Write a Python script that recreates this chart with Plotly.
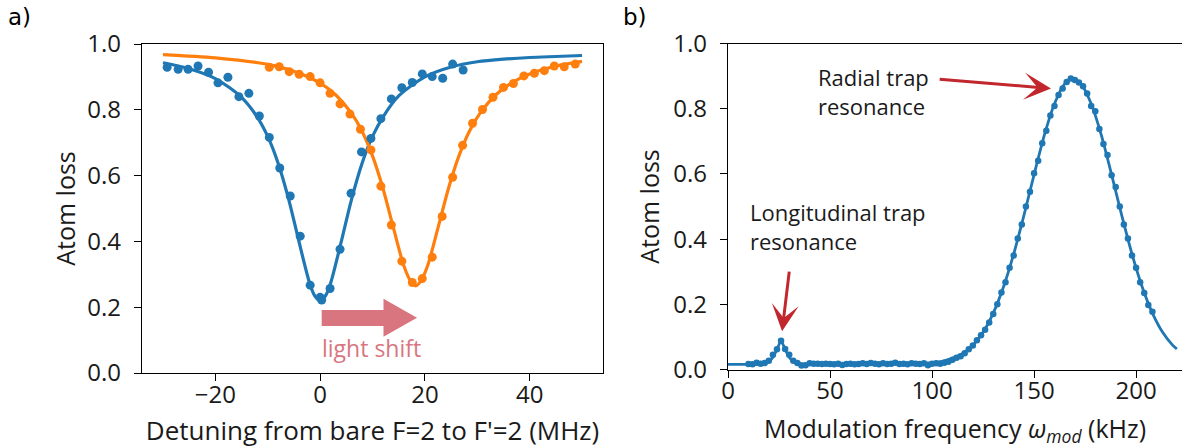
import plotly.graph_objects as go

# ---------------- Panel a) data ----------------
blue_x = [-29.2, -27.1, -25.2, -23.3, -21.3, -19.5, -17.6, -15.5, -13.6, -11.6, -9.7, -7.7,
          -5.7, -3.8, -1.9, 0.0, 0.3, 1.9, 3.8, 5.9, 7.9, 9.7, 11.6, 13.6, 15.6, 17.6, 19.5,
          21.4, 23.4, 25.3, 27.3]
blue_y = [0.929, 0.923, 0.923, 0.933, 0.914, 0.882, 0.899, 0.840, 0.850, 0.781, 0.716, 0.623,
          0.538, 0.416, 0.267, 0.230, 0.222, 0.257, 0.376, 0.546, 0.672, 0.713, 0.773, 0.833,
          0.867, 0.883, 0.909, 0.901, 0.896, 0.939, 0.921]

orange_x = [-9.7, -7.8, -5.9, -4.0, -1.9, 0.0, 1.9, 3.8, 5.7, 7.7, 9.7, 11.6, 13.6, 15.6,
            17.6, 19.5, 21.4, 23.3, 25.3, 27.2, 29.1, 31.0, 33.0, 35.0, 36.9, 38.9, 40.9,
            42.8, 44.7, 46.6, 48.7]
orange_y = [0.929, 0.931, 0.916, 0.908, 0.901, 0.882, 0.850, 0.818, 0.787, 0.741, 0.678,
            0.568, 0.450, 0.340, 0.275, 0.287, 0.352, 0.476, 0.595, 0.692, 0.759, 0.801,
            0.838, 0.868, 0.880, 0.903, 0.911, 0.919, 0.933, 0.931, 0.939]

blue_fit_x = [-30, -25, -20, -15, -12, -10, -8, -6, -4, -2, -1, 0, 1, 2, 4, 6, 8, 10, 12,
              15, 20, 25, 30, 35, 40, 45, 50]
blue_fit_y = [0.943, 0.925, 0.895, 0.838, 0.778, 0.719, 0.637, 0.528, 0.397, 0.273, 0.234,
              0.220, 0.234, 0.273, 0.397, 0.528, 0.637, 0.719, 0.778, 0.842, 0.900, 0.930,
              0.946, 0.954, 0.959, 0.962, 0.965]

orange_fit_x = [-30, -20, -10, -5, 0, 3, 6, 8, 10, 12, 14, 16, 17.25, 18.25, 19.25, 20.5,
                22.5, 24.5, 26.5, 28.5, 30.5, 33.5, 36.5, 40, 45, 50]
orange_fit_y = [0.968, 0.958, 0.938, 0.917, 0.881, 0.845, 0.789, 0.735, 0.660, 0.561, 0.441,
                0.325, 0.280, 0.265, 0.280, 0.325, 0.441, 0.561, 0.660, 0.735, 0.789, 0.845,
                0.881, 0.909, 0.933, 0.947]

# ---------------- Panel b) data ----------------
mod_x = [10, 12, 14, 16, 18, 20, 22, 24, 26, 28, 30, 32, 34, 36, 38, 40, 42, 44, 46, 48,
         50, 52, 54, 56, 58, 60, 62, 64, 66, 68, 70, 72, 74, 76, 78, 80, 82, 84, 86, 88,
         90, 92, 94, 96, 98, 100, 102, 104, 106, 108, 110, 112, 114, 116, 118, 120, 122,
         124, 126, 128, 130, 132, 134, 136, 138, 140, 142, 144, 146, 148, 150, 152, 154,
         156, 158, 160, 162, 164, 166, 168, 170, 172, 174, 176, 178, 180, 182, 184, 186,
         188, 190, 192, 194, 196, 198, 200, 202, 204, 206, 208]
mod_y = [0.017, 0.016, 0.021, 0.018, 0.020, 0.027, 0.045, 0.062, 0.088, 0.063, 0.045, 0.027,
         0.020, 0.012, 0.013, 0.019, 0.018, 0.018, 0.017, 0.018, 0.017, 0.016, 0.018, 0.014,
         0.017, 0.018, 0.016, 0.017, 0.019, 0.017, 0.020, 0.018, 0.016, 0.019, 0.017, 0.018,
         0.021, 0.017, 0.018, 0.016, 0.019, 0.018, 0.017, 0.019, 0.013, 0.018, 0.019, 0.018,
         0.021, 0.024, 0.030, 0.036, 0.041, 0.050, 0.062, 0.074, 0.090, 0.105, 0.122, 0.144,
         0.170, 0.200, 0.236, 0.268, 0.312, 0.350, 0.402, 0.445, 0.500, 0.545, 0.602, 0.640,
         0.694, 0.732, 0.779, 0.808, 0.842, 0.862, 0.882, 0.893, 0.888, 0.880, 0.869, 0.847,
         0.808, 0.792, 0.738, 0.692, 0.658, 0.596, 0.560, 0.500, 0.445, 0.402, 0.350, 0.312,
         0.268, 0.235, 0.198, 0.177]

mod_fit_x = [0, 10, 16, 18, 20, 22, 24, 26, 28, 30, 32, 34, 36, 40, 60, 80, 100, 105, 110,
             115, 120, 125, 130, 135, 140, 145, 150, 155, 160, 165, 169, 173, 178, 183, 188,
             193, 198, 203, 208, 213, 218, 220]
mod_fit_y = [0.016, 0.016, 0.017, 0.019, 0.024, 0.038, 0.062, 0.088, 0.062, 0.038, 0.024,
             0.019, 0.017, 0.016, 0.016, 0.017, 0.021, 0.025, 0.034, 0.049, 0.074, 0.114,
             0.173, 0.253, 0.354, 0.472, 0.598, 0.718, 0.815, 0.876, 0.892, 0.876, 0.815,
             0.718, 0.598, 0.472, 0.354, 0.253, 0.173, 0.114, 0.074, 0.063]

y_ticks = [0.0, 0.2, 0.4, 0.6, 0.8, 1.0]
y_ticktext = ["0.0", "0.2", "0.4", "0.6", "0.8", "1.0"]
xa_ticks = [-20, 0, 20, 40]
xa_ticktext = ["\u221220", "0", "20", "40"]
xb_ticks = [0, 50, 100, 150, 200]
xb_ticktext = ["0", "50", "100", "150", "200"]

BLUE = "#1f77b4"
ORANGE = "#ff7f0e"
PINK = "#d9757f"
RED = "#c1272d"
FONT = "Open Sans"
TXT = "#1a1a1a"

fig = go.Figure()
fig.add_trace(go.Scatter(x=blue_fit_x, y=blue_fit_y, mode="lines", line=dict(color=BLUE, width=3.2, shape="spline", smoothing=0.8),
                         xaxis="x", yaxis="y"))
fig.add_trace(go.Scatter(x=orange_fit_x, y=orange_fit_y, mode="lines", line=dict(color=ORANGE, width=3.2, shape="spline", smoothing=0.8),
                         xaxis="x", yaxis="y"))
fig.add_trace(go.Scatter(x=blue_x, y=blue_y, mode="markers", marker=dict(color=BLUE, size=9),
                         xaxis="x", yaxis="y"))
fig.add_trace(go.Scatter(x=orange_x, y=orange_y, mode="markers", marker=dict(color=ORANGE, size=9),
                         xaxis="x", yaxis="y"))
fig.add_trace(go.Scatter(x=mod_fit_x, y=mod_fit_y, mode="lines", line=dict(color=BLUE, width=2.8, shape="spline", smoothing=0.6),
                         xaxis="x2", yaxis="y2"))
fig.add_trace(go.Scatter(x=mod_x, y=mod_y, mode="markers", marker=dict(color=BLUE, size=6.5),
                         xaxis="x2", yaxis="y2"))

axis_common = dict(showline=True, linecolor="black", linewidth=1.3, ticks="outside", ticklen=7,
                   tickwidth=1.3, tickcolor="black", showgrid=False, zeroline=False, automargin=False,
                   tickfont=dict(family=FONT, size=24, color=TXT))
W, H = 1182, 448
TITLE_FONT = dict(family=FONT, size=25, color=TXT)
fig.update_layout(
    width=W, height=H, margin=dict(l=0, r=0, t=0, b=0, autoexpand=False),
    paper_bgcolor="white", plot_bgcolor="white", showlegend=False,
    font=dict(family=FONT, size=22, color=TXT),
    xaxis=dict(domain=[142 / W, 603 / W], range=[-34, 54], tickvals=xa_ticks, ticktext=xa_ticktext,
               mirror=True, anchor="y", ticklabelstandoff=-7,
               title=dict(text="Detuning from bare F=2 to F'=2 (MHz)", font=dict(family=FONT, size=26, color=TXT), standoff=19),
               **axis_common),
    yaxis=dict(domain=[1 - 373 / H, 1 - 44 / H], range=[0, 1.0], tickvals=y_ticks, ticktext=y_ticktext,
               mirror=True, anchor="x", ticklabelstandoff=8,
               title=dict(text="Atom loss", font=TITLE_FONT, standoff=4),
               **axis_common),
    xaxis2=dict(domain=[728 / W, 1.0], range=[0, 222.5], tickvals=xb_ticks, ticktext=xb_ticktext,
                mirror=True, anchor="y2", ticklabelstandoff=-7,
                title=dict(text="Modulation frequency <i>\u03c9</i><sub><i>mod</i></sub> (kHz)", font=TITLE_FONT, standoff=17),
                **axis_common),
    yaxis2=dict(domain=[1 - 369.5 / H, 1 - 43.5 / H], range=[0, 1.0], tickvals=y_ticks, ticktext=y_ticktext,
                mirror=False, anchor="x2", ticklabelstandoff=8,
                title=dict(text="Atom loss", font=TITLE_FONT, standoff=6),
                **axis_common),
)

# light shift block arrow (panel a)
fig.add_shape(type="path", xref="x", yref="y",
              path="M 0.3,0.143 L 12.1,0.143 L 12.1,0.110 L 18.5,0.168 L 12.1,0.226 L 12.1,0.1915 L 0.3,0.1915 Z",
              fillcolor=PINK, line=dict(width=0))

annotations = [
    dict(text="a)", x=6 / W, y=1 - 17 / H, xref="paper", yref="paper", xanchor="left", yanchor="middle",
         showarrow=False, font=dict(family="DejaVu Sans", size=23, color="black")),
    dict(text="b)", x=621 / W, y=1 - 17 / H, xref="paper", yref="paper", xanchor="left", yanchor="middle",
         showarrow=False, font=dict(family="DejaVu Sans", size=23, color="black")),
    dict(text="light shift", x=9.9, y=0.075, xref="x", yref="y", showarrow=False,
         font=dict(family=FONT, size=23, color=PINK)),
    dict(text="Radial trap<br>resonance", x=816 / W, y=1 - 91 / H, xref="paper", yref="paper",
         xanchor="left", yanchor="middle", align="left", showarrow=False,
         font=dict(family=FONT, size=22, color=TXT)),
    dict(text="Longitudinal trap<br>resonance", x=748 / W, y=1 - 226 / H, xref="paper", yref="paper",
         xanchor="left", yanchor="middle", align="left", showarrow=False,
         font=dict(family=FONT, size=22, color=TXT)),
    dict(text="", x=158.3, y=0.862, xref="x2", yref="y2", ax=103, ay=0.891, axref="x2", ayref="y2",
         showarrow=True, arrowhead=3, arrowsize=1.5, arrowwidth=3, arrowcolor=RED),
    dict(text="", x=26.5, y=0.117, xref="x2", yref="y2", ax=30.1, ay=0.305, axref="x2", ayref="y2",
         showarrow=True, arrowhead=3, arrowsize=1.5, arrowwidth=3, arrowcolor=RED),
]
fig.update_layout(annotations=annotations)

fig.write_html("out.html")
